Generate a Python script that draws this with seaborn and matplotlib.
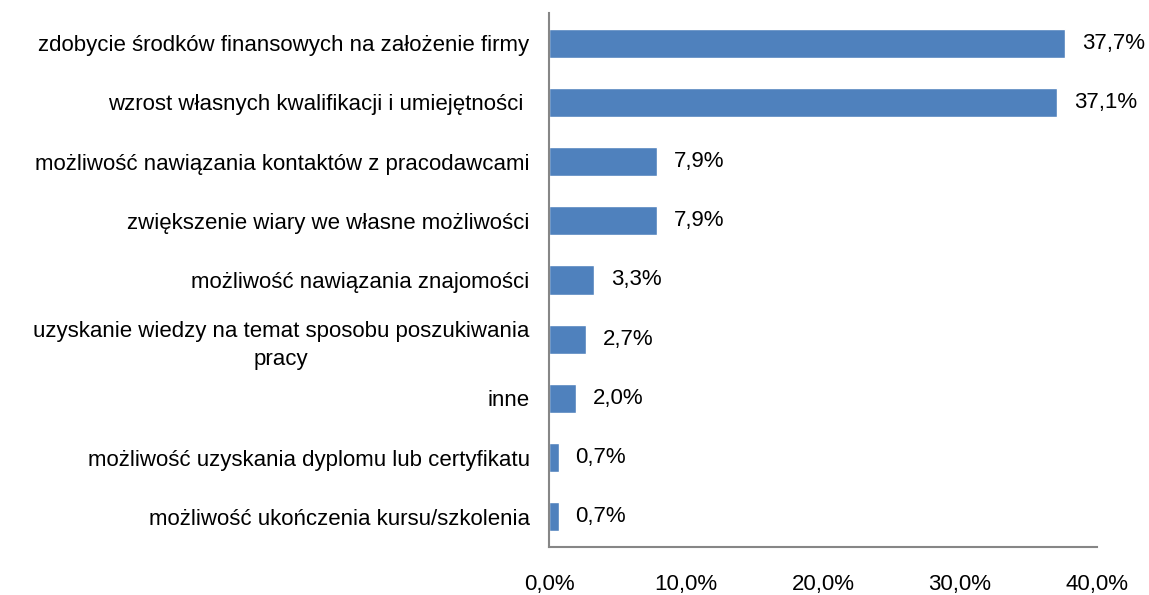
import numpy as np
import pandas as pd
import matplotlib.pyplot as plt
import seaborn as sns

# Data
categories = [
    'zdobycie środków finansowych na założenie firmy',
    'wzrost własnych kwalifikacji i umiejętności ',
    'możliwość nawiązania kontaktów z pracodawcami',
    'zwiększenie wiary we własne możliwości',
    'możliwość nawiązania znajomości',
    'uzyskanie wiedzy na temat sposobu poszukiwania\npracy',
    'inne',
    'możliwość uzyskania dyplomu lub certyfikatu',
    'możliwość ukończenia kursu/szkolenia',
]
values = [37.7, 37.1, 7.9, 7.9, 3.3, 2.7, 2.0, 0.7, 0.7]
xticks = [0, 10, 20, 30, 40]

df = pd.DataFrame({'kategoria': categories, 'procent': values})

sns.set_style('white')
plt.rcParams['font.family'] = ['Liberation Sans', 'DejaVu Sans']
fs = 16

fig = plt.figure(figsize=(11.49, 5.95), dpi=100)
ax = fig.add_axes([549 / 1149, 1 - 546.5 / 595, 548 / 1149, 533 / 595])

sns.barplot(data=df, x='procent', y='kategoria', color='#4F81BD',
            saturation=1, width=0.49, ax=ax)

for i, v in enumerate(values):
    ax.text(v + 1.2, i, f'{v:.1f}%'.replace('.', ','), va='center',
            ha='left', fontsize=fs, color='black')

ax.set_xlim(0, 40)
ax.set_xticks(xticks)
ax.set_xticklabels([f'{t:.1f}%'.replace('.', ',') for t in xticks])
ax.tick_params(axis='x', direction='out', length=6, color='#868686',
               pad=14, labelsize=fs, labelcolor='black')
ax.tick_params(axis='y', length=0, pad=14, labelsize=fs, labelcolor='black')
for lbl in ax.get_yticklabels():
    lbl.set_multialignment('center')
    lbl.set_linespacing(1.45)
ax.set_xlabel('')
ax.set_ylabel('')
sns.despine(ax=ax)
for s in ['left', 'bottom']:
    ax.spines[s].set_color('#868686')
    ax.spines[s].set_linewidth(1.5)

fig.savefig('out.png', dpi=100)
